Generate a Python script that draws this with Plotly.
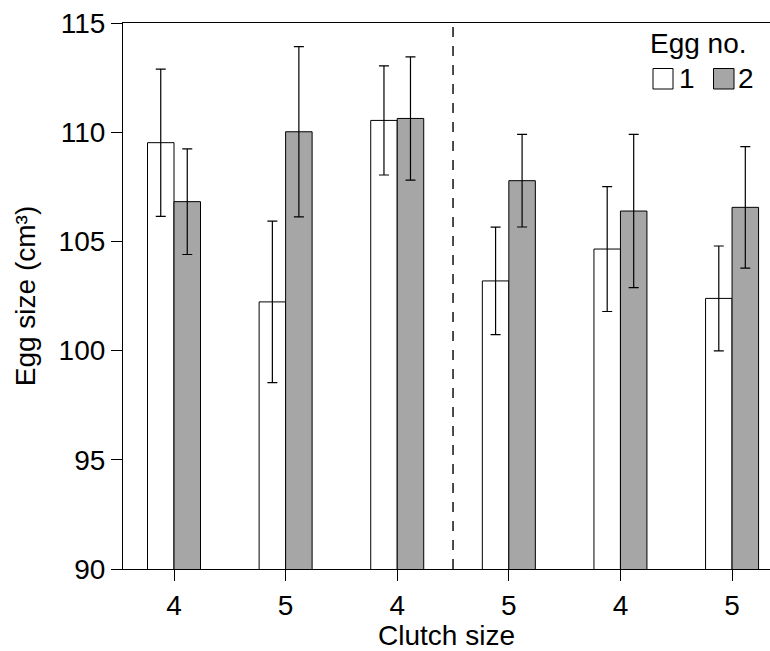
import plotly.graph_objects as go

# ---- data ----
clutch_labels = ["4", "5", "4", "5", "4", "5"]
egg1_mean = [109.52, 102.23, 110.54, 103.19, 104.65, 102.39]
egg1_err = [3.37, 3.70, 2.50, 2.46, 2.86, 2.40]
egg2_mean = [106.82, 110.02, 110.63, 107.78, 106.39, 106.56]
egg2_err = [2.42, 3.90, 2.82, 2.12, 3.51, 2.78]
y_ticks = [90, 95, 100, 105, 110, 115]
legend_title = "Egg no."
series_names = ["1", "2"]

W, H = 770, 651
L, R, T, B = 123, 0, 23, 82
FONT = "Liberation Sans, Arial, sans-serif"
GRAY = "#a6a6a6"
FS = 28

xs = list(range(len(clutch_labels)))

fig = go.Figure()
fig.add_trace(go.Bar(
    x=xs, y=egg1_mean, name=series_names[0], showlegend=False,
    marker=dict(color="white", line=dict(color="black", width=1)),
    error_y=dict(type="data", array=egg1_err, color="black", thickness=1.2, width=5),
))
fig.add_trace(go.Bar(
    x=xs, y=egg2_mean, name=series_names[1], showlegend=False,
    marker=dict(color=GRAY, line=dict(color="black", width=1)),
    error_y=dict(type="data", array=egg2_err, color="black", thickness=1.2, width=5),
))

# dashed divider between the two halves
fig.add_shape(type="line", x0=2.5, x1=2.5, xref="x", y0=0, y1=1, yref="y domain",
              line=dict(color="black", width=1.4, dash="10px,9px"))

# manual legend (px -> paper helpers)
pw, ph = W - L - R, H - T - B
def px(x):
    return (x - L) / pw
def py(y):
    return 1 - (y - T) / ph

fig.add_annotation(text=legend_title, xref="paper", yref="paper", x=px(648), y=py(44),
                   xanchor="left", yanchor="middle", showarrow=False,
                   font=dict(family=FONT, size=FS, color="black"))
fig.add_shape(type="rect", xref="paper", yref="paper", x0=px(653), x1=px(673),
              y0=py(89), y1=py(68.5), line=dict(color="black", width=1), fillcolor="white")
fig.add_shape(type="rect", xref="paper", yref="paper", x0=px(713.5), x1=px(734),
              y0=py(89), y1=py(68.5), line=dict(color="black", width=1), fillcolor=GRAY)
fig.add_annotation(text=series_names[0], xref="paper", yref="paper", x=px(677), y=py(79),
                   xanchor="left", yanchor="middle", showarrow=False,
                   font=dict(family=FONT, size=FS, color="black"))
fig.add_annotation(text=series_names[1], xref="paper", yref="paper", x=px(736), y=py(79),
                   xanchor="left", yanchor="middle", showarrow=False,
                   font=dict(family=FONT, size=FS, color="black"))

fig.update_layout(
    width=W, height=H,
    margin=dict(l=L, r=R, t=T, b=B, pad=0),
    paper_bgcolor="white", plot_bgcolor="white",
    barmode="group", bargap=0.525, bargroupgap=0,
    font=dict(family=FONT, size=FS, color="black"),
    showlegend=False,
)
fig.update_xaxes(
    range=[-0.457, 5.34], tickvals=xs, ticktext=clutch_labels,
    showgrid=False, zeroline=False, showline=True, linecolor="black", linewidth=1.2,
    mirror=True, ticks="outside", ticklen=11, tickwidth=1.2, tickcolor="black",
    tickfont=dict(size=FS), title=dict(text="Clutch size", font=dict(size=FS), standoff=2),
)
fig.update_yaxes(
    range=[90, 115], tickvals=y_ticks, ticktext=[str(v) for v in y_ticks],
    showgrid=False, zeroline=False, showline=True, linecolor="black", linewidth=1.2,
    ticks="outside", ticklen=11, tickwidth=1.2, tickcolor="black",
    tickfont=dict(size=FS), title=dict(text="Egg size (cm³)", font=dict(size=FS), standoff=14),
)

fig.write_html("out.html")
